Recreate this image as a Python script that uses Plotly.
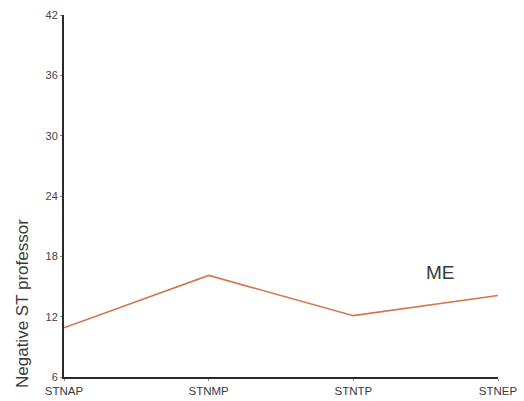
import plotly.graph_objects as go

categories = ["STNAP", "STNMP", "STNTP", "STNEP"]
values = [10.9, 16.1, 12.1, 14.1]
y_ticks = [6, 12, 18, 24, 30, 36, 42]
series_label = "ME"
y_title = "Negative ST professor"

x_pos = list(range(len(categories)))

fig = go.Figure()
fig.add_trace(go.Scatter(
    x=x_pos, y=values, mode="lines",
    line=dict(color="#d0774d", width=1.6),
    showlegend=False, hoverinfo="skip",
))

W, H = 524, 401
ml, mr, mt, mb = 64, 26, 15, 24

fig.update_layout(
    template="none",
    width=W, height=H,
    margin=dict(l=ml, r=mr, t=mt, b=mb, autoexpand=False),
    paper_bgcolor="white", plot_bgcolor="white",
    font=dict(family="Liberation Sans, Arial, sans-serif", color="#333333"),
    xaxis=dict(
        range=[0, len(categories) - 1],
        tickvals=x_pos, ticktext=categories,
        showgrid=False, zeroline=False, automargin=False,
        showline=True, linecolor="#2a2a2a", linewidth=2,
        ticks="outside", ticklen=2, tickcolor="#888888",
        tickfont=dict(size=11.5, color="#3a3a3a"),
    ),
    yaxis=dict(
        range=[6, 42],
        tickvals=y_ticks,
        showgrid=False, zeroline=False, automargin=False,
        showline=True, linecolor="#2a2a2a", linewidth=2,
        ticks="outside", ticklen=2, tickcolor="#888888",
        tickfont=dict(size=11, color="#444444"),
    ),
    annotations=[
        dict(x=2.6, y=16.4, xref="x", yref="y", text=series_label,
             showarrow=False, font=dict(size=19, color="#3a3a3a")),
        dict(x=-42 / (W - ml - mr), y=(H - mb - 304) / (H - mt - mb),
             xref="paper", yref="paper", xanchor="center", yanchor="middle",
             text=y_title, textangle=-90,
             showarrow=False, font=dict(size=17, color="#3a3a3a")),
    ],
)

fig.write_html(
    "out.html",
    config={"displayModeBar": False},
    post_script="document.body.style.margin='0px';document.body.style.overflow='hidden';",
)
